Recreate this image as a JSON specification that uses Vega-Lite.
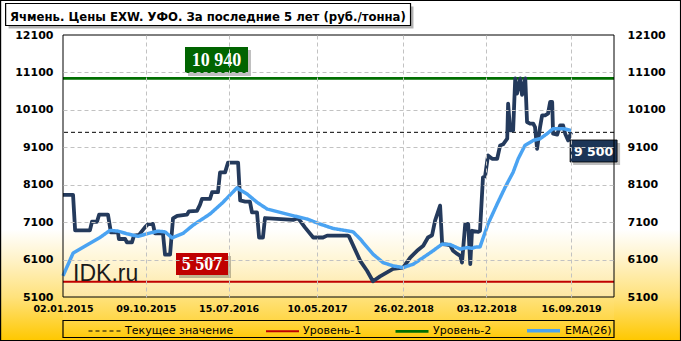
{
  "$schema": "https://vega.github.io/schema/vega-lite/v6.json",
  "width": 551,
  "height": 262,
  "autosize": {"type": "none"},
  "padding": {"left": 63, "top": 35, "right": 67, "bottom": 44},
  "background": "#ffffff",
  "view": {"stroke": null},
  "title": {
    "text": "Ячмень. Цены EXW. УФО. За последние 5 лет (руб./тонна)",
    "anchor": "start",
    "frame": "group",
    "font": "DejaVu Sans",
    "fontSize": 11.7,
    "fontWeight": "bold",
    "color": "#000000",
    "baseline": "alphabetic",
    "dx": -53,
    "dy": 35.5,
    "offset": 0,
    "zindex": 2
  },
  "datasets": {
    "levels": [
      {"series": "Текущее значение", "value": 9500},
      {"series": "Уровень-1", "value": 5507},
      {"series": "Уровень-2", "value": 10940}
    ],
    "price": [
      {"date": "2015-01-02", "value": 7830}, {"date": "2015-02-05", "value": 7830}, {"date": "2015-02-12", "value": 6880},
      {"date": "2015-04-03", "value": 6880}, {"date": "2015-04-10", "value": 7110}, {"date": "2015-04-27", "value": 7110},
      {"date": "2015-05-04", "value": 7300}, {"date": "2015-06-03", "value": 7300}, {"date": "2015-06-13", "value": 6825},
      {"date": "2015-07-07", "value": 6825}, {"date": "2015-07-10", "value": 6650}, {"date": "2015-07-31", "value": 6650},
      {"date": "2015-08-06", "value": 6560}, {"date": "2015-08-23", "value": 6560}, {"date": "2015-08-30", "value": 6740},
      {"date": "2015-09-16", "value": 6760}, {"date": "2015-10-06", "value": 6960}, {"date": "2015-10-17", "value": 7050},
      {"date": "2015-11-02", "value": 7050}, {"date": "2015-11-09", "value": 6800}, {"date": "2015-12-06", "value": 6800},
      {"date": "2015-12-13", "value": 6230}, {"date": "2015-12-30", "value": 6230}, {"date": "2016-01-09", "value": 7200},
      {"date": "2016-01-23", "value": 7270}, {"date": "2016-02-25", "value": 7300}, {"date": "2016-03-03", "value": 7390},
      {"date": "2016-03-30", "value": 7400}, {"date": "2016-04-09", "value": 7560}, {"date": "2016-04-16", "value": 7720},
      {"date": "2016-05-13", "value": 7720}, {"date": "2016-05-20", "value": 7900}, {"date": "2016-06-09", "value": 7900},
      {"date": "2016-06-16", "value": 8430}, {"date": "2016-07-03", "value": 8430}, {"date": "2016-07-13", "value": 8690},
      {"date": "2016-08-16", "value": 8690}, {"date": "2016-08-23", "value": 7680}, {"date": "2016-09-09", "value": 7650},
      {"date": "2016-09-25", "value": 7650}, {"date": "2016-10-02", "value": 7360}, {"date": "2016-10-19", "value": 7360},
      {"date": "2016-10-26", "value": 6690}, {"date": "2016-11-08", "value": 6690}, {"date": "2016-11-15", "value": 7210},
      {"date": "2017-02-18", "value": 7160}, {"date": "2017-03-07", "value": 7210}, {"date": "2017-03-30", "value": 6960},
      {"date": "2017-04-27", "value": 6690}, {"date": "2017-05-30", "value": 6690}, {"date": "2017-06-13", "value": 6740},
      {"date": "2017-08-20", "value": 6740}, {"date": "2017-08-26", "value": 6720}, {"date": "2017-10-03", "value": 6065},
      {"date": "2017-10-26", "value": 5800}, {"date": "2017-11-15", "value": 5520}, {"date": "2017-12-09", "value": 5650},
      {"date": "2018-01-22", "value": 5850}, {"date": "2018-02-25", "value": 5886}, {"date": "2018-03-21", "value": 6154},
      {"date": "2018-04-13", "value": 6334}, {"date": "2018-05-04", "value": 6468}, {"date": "2018-05-20", "value": 6690},
      {"date": "2018-06-03", "value": 6750}, {"date": "2018-06-13", "value": 7138}, {"date": "2018-06-30", "value": 7540},
      {"date": "2018-07-07", "value": 6513}, {"date": "2018-07-24", "value": 6500}, {"date": "2018-08-03", "value": 6480},
      {"date": "2018-08-13", "value": 6334}, {"date": "2018-08-27", "value": 6250}, {"date": "2018-09-06", "value": 6200},
      {"date": "2018-09-12", "value": 6020}, {"date": "2018-09-23", "value": 7050}, {"date": "2018-10-03", "value": 7050},
      {"date": "2018-10-10", "value": 5976}, {"date": "2018-10-16", "value": 6870}, {"date": "2018-11-06", "value": 6843},
      {"date": "2018-11-12", "value": 6870}, {"date": "2018-11-22", "value": 8300}, {"date": "2018-11-29", "value": 8320},
      {"date": "2018-12-09", "value": 8882}, {"date": "2018-12-23", "value": 8793}, {"date": "2019-01-09", "value": 8793},
      {"date": "2019-01-19", "value": 9150}, {"date": "2019-01-29", "value": 9180}, {"date": "2019-02-12", "value": 9329},
      {"date": "2019-02-15", "value": 10268}, {"date": "2019-02-22", "value": 9552}, {"date": "2019-03-04", "value": 9552},
      {"date": "2019-03-11", "value": 10939}, {"date": "2019-03-17", "value": 10536}, {"date": "2019-03-28", "value": 10940},
      {"date": "2019-04-03", "value": 10500}, {"date": "2019-04-14", "value": 10940}, {"date": "2019-04-20", "value": 9775},
      {"date": "2019-04-30", "value": 9730}, {"date": "2019-05-11", "value": 9730}, {"date": "2019-05-17", "value": 9640},
      {"date": "2019-05-24", "value": 9060}, {"date": "2019-06-03", "value": 9640}, {"date": "2019-06-10", "value": 9955},
      {"date": "2019-06-20", "value": 9955}, {"date": "2019-06-30", "value": 10000}, {"date": "2019-07-07", "value": 10311},
      {"date": "2019-07-14", "value": 10311}, {"date": "2019-07-17", "value": 9464}, {"date": "2019-07-31", "value": 9440},
      {"date": "2019-08-10", "value": 9686}, {"date": "2019-08-20", "value": 9686}, {"date": "2019-08-27", "value": 9464},
      {"date": "2019-09-06", "value": 9284}, {"date": "2019-09-16", "value": 9500}
    ],
    "ema": [
      {"date": "2015-01-02", "value": 5664, "series": "EMA(26)"}, {"date": "2015-02-05", "value": 6270, "series": "EMA(26)"},
      {"date": "2015-03-24", "value": 6490, "series": "EMA(26)"}, {"date": "2015-05-07", "value": 6690, "series": "EMA(26)"},
      {"date": "2015-06-10", "value": 6880, "series": "EMA(26)"}, {"date": "2015-07-07", "value": 6860, "series": "EMA(26)"},
      {"date": "2015-08-06", "value": 6790, "series": "EMA(26)"}, {"date": "2015-09-13", "value": 6720, "series": "EMA(26)"},
      {"date": "2015-10-13", "value": 6790, "series": "EMA(26)"}, {"date": "2015-11-19", "value": 6860, "series": "EMA(26)"},
      {"date": "2015-12-13", "value": 6840, "series": "EMA(26)"}, {"date": "2016-01-06", "value": 6680, "series": "EMA(26)"},
      {"date": "2016-02-12", "value": 6800, "series": "EMA(26)"}, {"date": "2016-03-17", "value": 7020, "series": "EMA(26)"},
      {"date": "2016-05-13", "value": 7318, "series": "EMA(26)"}, {"date": "2016-06-26", "value": 7630, "series": "EMA(26)"},
      {"date": "2016-08-12", "value": 8015, "series": "EMA(26)"}, {"date": "2016-09-15", "value": 7854, "series": "EMA(26)"},
      {"date": "2016-10-19", "value": 7630, "series": "EMA(26)"}, {"date": "2016-11-22", "value": 7452, "series": "EMA(26)"},
      {"date": "2017-01-05", "value": 7361, "series": "EMA(26)"}, {"date": "2017-02-18", "value": 7272, "series": "EMA(26)"},
      {"date": "2017-04-06", "value": 7184, "series": "EMA(26)"}, {"date": "2017-05-20", "value": 7050, "series": "EMA(26)"},
      {"date": "2017-07-03", "value": 6932, "series": "EMA(26)"}, {"date": "2017-08-19", "value": 6870, "series": "EMA(26)"},
      {"date": "2017-09-09", "value": 6840, "series": "EMA(26)"}, {"date": "2017-10-03", "value": 6647, "series": "EMA(26)"},
      {"date": "2017-11-15", "value": 6245, "series": "EMA(26)"}, {"date": "2017-12-19", "value": 6020, "series": "EMA(26)"},
      {"date": "2018-01-22", "value": 5931, "series": "EMA(26)"}, {"date": "2018-02-25", "value": 5886, "series": "EMA(26)"},
      {"date": "2018-03-31", "value": 5976, "series": "EMA(26)"}, {"date": "2018-05-04", "value": 6154, "series": "EMA(26)"},
      {"date": "2018-06-06", "value": 6334, "series": "EMA(26)"}, {"date": "2018-07-07", "value": 6513, "series": "EMA(26)"},
      {"date": "2018-08-03", "value": 6500, "series": "EMA(26)"}, {"date": "2018-09-06", "value": 6379, "series": "EMA(26)"},
      {"date": "2018-09-29", "value": 6420, "series": "EMA(26)"}, {"date": "2018-10-16", "value": 6400, "series": "EMA(26)"},
      {"date": "2018-10-26", "value": 6430, "series": "EMA(26)"}, {"date": "2018-11-12", "value": 6440, "series": "EMA(26)"},
      {"date": "2018-12-09", "value": 7050, "series": "EMA(26)"}, {"date": "2019-01-09", "value": 7586, "series": "EMA(26)"},
      {"date": "2019-02-05", "value": 8032, "series": "EMA(26)"}, {"date": "2019-03-04", "value": 8434, "series": "EMA(26)"},
      {"date": "2019-03-21", "value": 8793, "series": "EMA(26)"}, {"date": "2019-04-13", "value": 9150, "series": "EMA(26)"},
      {"date": "2019-05-11", "value": 9284, "series": "EMA(26)"}, {"date": "2019-06-03", "value": 9329, "series": "EMA(26)"},
      {"date": "2019-06-27", "value": 9464, "series": "EMA(26)"}, {"date": "2019-07-17", "value": 9598, "series": "EMA(26)"},
      {"date": "2019-08-20", "value": 9598, "series": "EMA(26)"}, {"date": "2019-09-16", "value": 9552, "series": "EMA(26)"}
    ]
  },
  "resolve": {"axis": {"x": "independent", "y": "independent"}},
  "layer": [
    {
      "data": {"values": [{}]},
      "mark": {"type": "rect", "strokeWidth": 0, "fill": {"gradient": "linear", "x1": 0, "y1": 0, "x2": 0, "y2": 1, "stops": [{"offset": 0, "color": "#ffffff"}, {"offset": 0.67, "color": "#ffffff"}, {"offset": 0.76, "color": "#FFF2C6"}, {"offset": 0.865, "color": "#FFE27C"}, {"offset": 0.99, "color": "#FFC800"}, {"offset": 1, "color": "#FFC600"}]}},
      "encoding": {
        "x": {"datum": {"year": 2014, "month": 1, "date": 1, "utc": true}, "type": "temporal", "scale": {"type": "utc", "domain": [{"year": 2015, "month": 1, "date": 2, "utc": true}, {"year": 2020, "month": 2, "date": 8, "utc": true}]}, "axis": null},
        "x2": {"datum": {"year": 2015, "month": 1, "date": 2, "utc": true}},
        "y": {"datum": 13100, "type": "quantitative", "scale": {"domain": [5100, 12100], "nice": false, "zero": false}, "axis": null},
        "y2": {"datum": 3850}
      }
    },
    {
      "data": {"values": [{}]},
      "mark": {"type": "rect", "strokeWidth": 0, "fill": {"gradient": "linear", "x1": 0, "y1": 0, "x2": 0, "y2": 1, "stops": [{"offset": 0, "color": "#ffffff"}, {"offset": 0.67, "color": "#ffffff"}, {"offset": 0.76, "color": "#FFF2C6"}, {"offset": 0.865, "color": "#FFE27C"}, {"offset": 0.99, "color": "#FFC800"}, {"offset": 1, "color": "#FFC600"}]}},
      "encoding": {
        "x": {"datum": {"year": 2020, "month": 2, "date": 8, "utc": true}, "type": "temporal", "axis": null},
        "x2": {"datum": {"year": 2021, "month": 1, "date": 1, "utc": true}},
        "y": {"datum": 13100, "type": "quantitative", "axis": null},
        "y2": {"datum": 3850}
      }
    },
    {
      "data": {"values": [{}]},
      "mark": {"type": "rect", "strokeWidth": 0, "fill": {"gradient": "linear", "x1": 0, "y1": 0, "x2": 0, "y2": 1, "stops": [{"offset": 0, "color": "#FFE27C"}, {"offset": 0.49, "color": "#FFD748"}, {"offset": 0.94, "color": "#FFC800"}, {"offset": 1, "color": "#FFC600"}]}},
      "encoding": {
        "x": {"datum": {"year": 2015, "month": 1, "date": 2, "utc": true}, "type": "temporal", "axis": null},
        "x2": {"datum": {"year": 2020, "month": 2, "date": 8, "utc": true}},
        "y": {"datum": 5100, "type": "quantitative", "axis": null},
        "y2": {"datum": 3850}
      }
    },
    {
      "data": {"values": [{}]},
      "mark": {"type": "rect", "strokeWidth": 0, "fill": {"gradient": "linear", "x1": 0, "y1": 0, "x2": 0, "y2": 1, "stops": [{"offset": 0, "color": "#ffffff"}, {"offset": 0.74, "color": "#ffffff"}, {"offset": 0.88, "color": "#FFF4CE"}, {"offset": 1, "color": "#FDE6A2"}]}},
      "encoding": {
        "x": {"datum": {"year": 2015, "month": 1, "date": 2, "utc": true}, "type": "temporal", "axis": null},
        "x2": {"datum": {"year": 2020, "month": 2, "date": 8, "utc": true}},
        "y": {"datum": 12100, "type": "quantitative", "axis": null},
        "y2": {"datum": 5100}
      }
    },
    {
      "data": {"values": [{}]},
      "mark": {"type": "rect", "strokeWidth": 0, "fill": "#000000", "opacity": 0.3},
      "encoding": {
        "x": {"datum": {"year": 2014, "month": 7, "date": 2, "utc": true}, "type": "temporal", "axis": null},
        "x2": {"datum": {"year": 2018, "month": 4, "date": 1, "utc": true}},
        "y": {"datum": 12862, "type": "quantitative", "axis": null},
        "y2": {"datum": 12274}
      }
    },
    {
      "data": {"values": [{}]},
      "mark": {"type": "rect", "fill": "#ffffff", "stroke": "#000000", "strokeWidth": 1.2},
      "encoding": {
        "x": {"datum": {"year": 2014, "month": 6, "date": 22, "utc": true}, "type": "temporal", "axis": null},
        "x2": {"datum": {"year": 2018, "month": 3, "date": 22, "utc": true}},
        "y": {"datum": 12942, "type": "quantitative", "axis": null},
        "y2": {"datum": 12354}
      }
    },
    {
      "data": {"values": [{}]},
      "mark": {"type": "rect", "fill": "transparent", "stroke": "#000000", "strokeWidth": 1.2},
      "encoding": {
        "x": {"datum": {"year": 2015, "month": 1, "date": 2, "utc": true}, "type": "temporal", "axis": null},
        "x2": {"datum": {"year": 2020, "month": 2, "date": 8, "utc": true}},
        "y": {"datum": 4472, "type": "quantitative", "axis": null},
        "y2": {"datum": 4018}
      }
    },
    {
      "data": {"name": "levels"},
      "mark": {"type": "rule"},
      "encoding": {
        "y": {"field": "value", "type": "quantitative",
              "axis": {"orient": "right", "values": [5100, 6100, 7100, 8100, 9100, 10100, 11100, 12100], "format": "d", "grid": false, "ticks": false, "domain": false, "labelFont": "DejaVu Sans", "labelFontSize": 11, "labelFontWeight": "bold", "labelColor": "#000000", "labelPadding": 13, "labelFlush": false, "labelOverlap": false, "title": null, "zindex": 1}},
        "color": {"field": "series", "type": "nominal", "scale": {"domain": ["Текущее значение", "Уровень-1", "Уровень-2", "EMA(26)"], "range": ["#000000", "#C00000", "#006E00", "#4AA3F2"]}, "legend": {"title": null, "orient": "none", "legendX": 25, "legendY": 277, "direction": "horizontal"}},
        "strokeDash": {"field": "series", "type": "nominal", "scale": {"domain": ["Текущее значение", "Уровень-1", "Уровень-2", "EMA(26)"], "range": [[4, 3], [1, 0], [1, 0], [1, 0]]}, "legend": {"title": null, "orient": "none", "legendX": 25, "legendY": 277, "direction": "horizontal"}},
        "strokeWidth": {"field": "series", "type": "nominal", "scale": {"domain": ["Текущее значение", "Уровень-1", "Уровень-2", "EMA(26)"], "range": [1, 3.5, 3.5, 3]}, "legend": {"title": null, "orient": "none", "legendX": 25, "legendY": 277, "direction": "horizontal"}}
      }
    },
    {
      "data": {"name": "price"},
      "mark": {"type": "line", "color": "#243A5C", "strokeWidth": 3.8, "strokeJoin": "round"},
      "encoding": {
        "x": {"field": "date", "type": "temporal",
              "axis": {"orient": "bottom", "values": [{"year": 2015, "month": 10, "date": 9, "utc": true}, {"year": 2016, "month": 7, "date": 15, "utc": true}, {"year": 2017, "month": 5, "date": 10, "utc": true}, {"year": 2018, "month": 2, "date": 26, "utc": true}, {"year": 2018, "month": 12, "date": 3, "utc": true}, {"year": 2019, "month": 9, "date": 16, "utc": true}], "grid": true, "gridColor": "#C2C2C2", "gridDash": [4, 3], "gridWidth": 1, "labels": false, "ticks": false, "domain": false, "title": null, "zindex": 1}},
        "y": {"field": "value", "type": "quantitative",
              "axis": {"orient": "left", "values": [6100, 7100, 8100, 9100, 10100, 11100], "grid": true, "gridColor": "#C2C2C2", "gridDash": [4, 3], "gridWidth": 1, "labels": false, "ticks": false, "domain": false, "title": null, "zindex": 1}}
      }
    },
    {
      "data": {"name": "ema"},
      "mark": {"type": "line", "strokeJoin": "round"},
      "encoding": {
        "x": {"field": "date", "type": "temporal",
              "axis": {"orient": "bottom", "values": [{"year": 2015, "month": 1, "date": 2, "utc": true}, {"year": 2015, "month": 10, "date": 9, "utc": true}, {"year": 2016, "month": 7, "date": 15, "utc": true}, {"year": 2017, "month": 5, "date": 10, "utc": true}, {"year": 2018, "month": 2, "date": 26, "utc": true}, {"year": 2018, "month": 12, "date": 3, "utc": true}, {"year": 2019, "month": 9, "date": 16, "utc": true}], "format": "%d.%m.%Y", "grid": false, "ticks": false, "domain": false, "labelFont": "DejaVu Sans", "labelFontSize": 9.5, "labelFontWeight": "bold", "labelColor": "#000000", "labelPadding": 6, "labelFlush": false, "labelOverlap": false, "title": null, "zindex": 1}},
        "y": {"field": "value", "type": "quantitative",
              "axis": {"orient": "left", "values": [5100, 6100, 7100, 8100, 9100, 10100, 11100, 12100], "format": "d", "grid": false, "ticks": false, "domain": false, "labelFont": "DejaVu Sans", "labelFontSize": 11, "labelFontWeight": "bold", "labelColor": "#000000", "labelPadding": 10, "labelFlush": false, "labelOverlap": false, "title": null, "zindex": 1}},
        "color": {"field": "series", "type": "nominal", "legend": {"title": null, "orient": "none", "legendX": 25, "legendY": 277, "direction": "horizontal"}},
        "strokeDash": {"field": "series", "type": "nominal", "legend": {"title": null, "orient": "none", "legendX": 25, "legendY": 277, "direction": "horizontal"}},
        "strokeWidth": {"field": "series", "type": "nominal", "legend": {"title": null, "orient": "none", "legendX": 25, "legendY": 277, "direction": "horizontal"}}
      }
    },
    {
      "data": {"values": [{}]},
      "mark": {"type": "point", "shape": "M-28.5,-10H34.5V16H-28.5Z", "size": 4, "filled": true, "color": "#000000", "opacity": 0.25, "strokeWidth": 0},
      "encoding": {"x": {"datum": {"year": 2016, "month": 6, "date": 4, "utc": true}, "type": "temporal", "axis": null}, "y": {"datum": 11432, "type": "quantitative", "axis": null}}
    },
    {
      "data": {"values": [{}]},
      "mark": {"type": "point", "shape": "M-31.5,-13H31.5V13H-31.5Z", "size": 4, "filled": true, "color": "#006400", "opacity": 1, "strokeWidth": 0},
      "encoding": {"x": {"datum": {"year": 2016, "month": 6, "date": 4, "utc": true}, "type": "temporal", "axis": null}, "y": {"datum": 11432, "type": "quantitative", "axis": null}}
    },
    {
      "data": {"values": [{}]},
      "mark": {"type": "text", "text": "10 940", "font": "Liberation Serif", "fontSize": 18, "fontWeight": "bold", "color": "#ffffff", "align": "center", "baseline": "middle", "dy": 1},
      "encoding": {"x": {"datum": {"year": 2016, "month": 6, "date": 4, "utc": true}, "type": "temporal", "axis": null}, "y": {"datum": 11432, "type": "quantitative", "axis": null}}
    },
    {
      "data": {"values": [{}]},
      "mark": {"type": "point", "shape": "M-23,-8H29V14H-23Z", "size": 4, "filled": true, "color": "#000000", "opacity": 0.25, "strokeWidth": 0},
      "encoding": {"x": {"datum": {"year": 2016, "month": 4, "date": 16, "utc": true}, "type": "temporal", "axis": null}, "y": {"datum": 5982, "type": "quantitative", "axis": null}}
    },
    {
      "data": {"values": [{}]},
      "mark": {"type": "point", "shape": "M-26,-11H26V11H-26Z", "size": 4, "filled": true, "color": "#C00000", "opacity": 1, "strokeWidth": 0},
      "encoding": {"x": {"datum": {"year": 2016, "month": 4, "date": 16, "utc": true}, "type": "temporal", "axis": null}, "y": {"datum": 5982, "type": "quantitative", "axis": null}}
    },
    {
      "data": {"values": [{}]},
      "mark": {"type": "text", "text": "5 507", "font": "Liberation Serif", "fontSize": 18, "fontWeight": "bold", "color": "#ffffff", "align": "center", "baseline": "middle", "dy": 1},
      "encoding": {"x": {"datum": {"year": 2016, "month": 4, "date": 16, "utc": true}, "type": "temporal", "axis": null}, "y": {"datum": 5982, "type": "quantitative", "axis": null}}
    },
    {
      "data": {"values": [{}]},
      "mark": {"type": "point", "shape": "M-20.5,-8H26.5V14H-20.5Z", "size": 4, "filled": true, "color": "#000000", "opacity": 0.25, "strokeWidth": 0},
      "encoding": {"x": {"datum": {"year": 2019, "month": 12, "date": 1, "utc": true}, "type": "temporal", "axis": null}, "y": {"datum": 9001, "type": "quantitative", "axis": null}}
    },
    {
      "data": {"values": [{}]},
      "mark": {"type": "point", "shape": "M-23.5,-11H23.5V11H-23.5Z", "size": 4, "filled": true, "color": "#1C3557", "opacity": 1, "stroke": "#000000", "strokeWidth": 0.8},
      "encoding": {"x": {"datum": {"year": 2019, "month": 12, "date": 1, "utc": true}, "type": "temporal", "axis": null}, "y": {"datum": 9001, "type": "quantitative", "axis": null}}
    },
    {
      "data": {"values": [{}]},
      "mark": {"type": "text", "text": "9 500", "font": "DejaVu Sans", "fontSize": 12.5, "fontWeight": "bold", "color": "#ffffff", "align": "center", "baseline": "middle", "dy": 1},
      "encoding": {"x": {"datum": {"year": 2019, "month": 12, "date": 1, "utc": true}, "type": "temporal", "axis": null}, "y": {"datum": 9001, "type": "quantitative", "axis": null}}
    },
    {
      "data": {"values": [{}]},
      "mark": {"type": "text", "text": "IDK.ru", "font": "Liberation Sans", "fontSize": 23, "color": "#1a1a1a", "align": "left", "baseline": "alphabetic"},
      "encoding": {"x": {"datum": {"year": 2015, "month": 2, "date": 5, "utc": true}, "type": "temporal", "axis": null}, "y": {"datum": 5527, "type": "quantitative", "axis": null}}
    },
    {
      "data": {"values": [{}]},
      "mark": {"type": "rect", "fill": "transparent", "stroke": "#000000", "strokeWidth": 1},
      "encoding": {
        "x": {"datum": {"year": 2015, "month": 1, "date": 2, "utc": true}, "type": "temporal", "axis": null},
        "x2": {"datum": {"year": 2020, "month": 2, "date": 8, "utc": true}},
        "y": {"datum": 12100, "type": "quantitative", "axis": null},
        "y2": {"datum": 5100}
      }
    },
    {
      "data": {"values": [{}]},
      "mark": {"type": "rect", "fill": "transparent", "stroke": "#000000", "strokeWidth": 1.2},
      "encoding": {
        "x": {"datum": {"year": 2014, "month": 6, "date": 5, "utc": true}, "type": "temporal", "axis": null},
        "x2": {"datum": {"year": 2020, "month": 9, "date": 20, "utc": true}},
        "y": {"datum": 13022, "type": "quantitative", "axis": null},
        "y2": {"datum": 3938}
      }
    }
  ],
  "config": {
    "legend": {
      "symbolType": "stroke",
      "symbolSize": 1089,
      "labelFont": "DejaVu Sans",
      "labelFontSize": 11,
      "labelColor": "#000000",
      "labelOffset": 3,
      "columnPadding": 28,
      "padding": 0,
      "labelLimit": 300
    }
  }
}
